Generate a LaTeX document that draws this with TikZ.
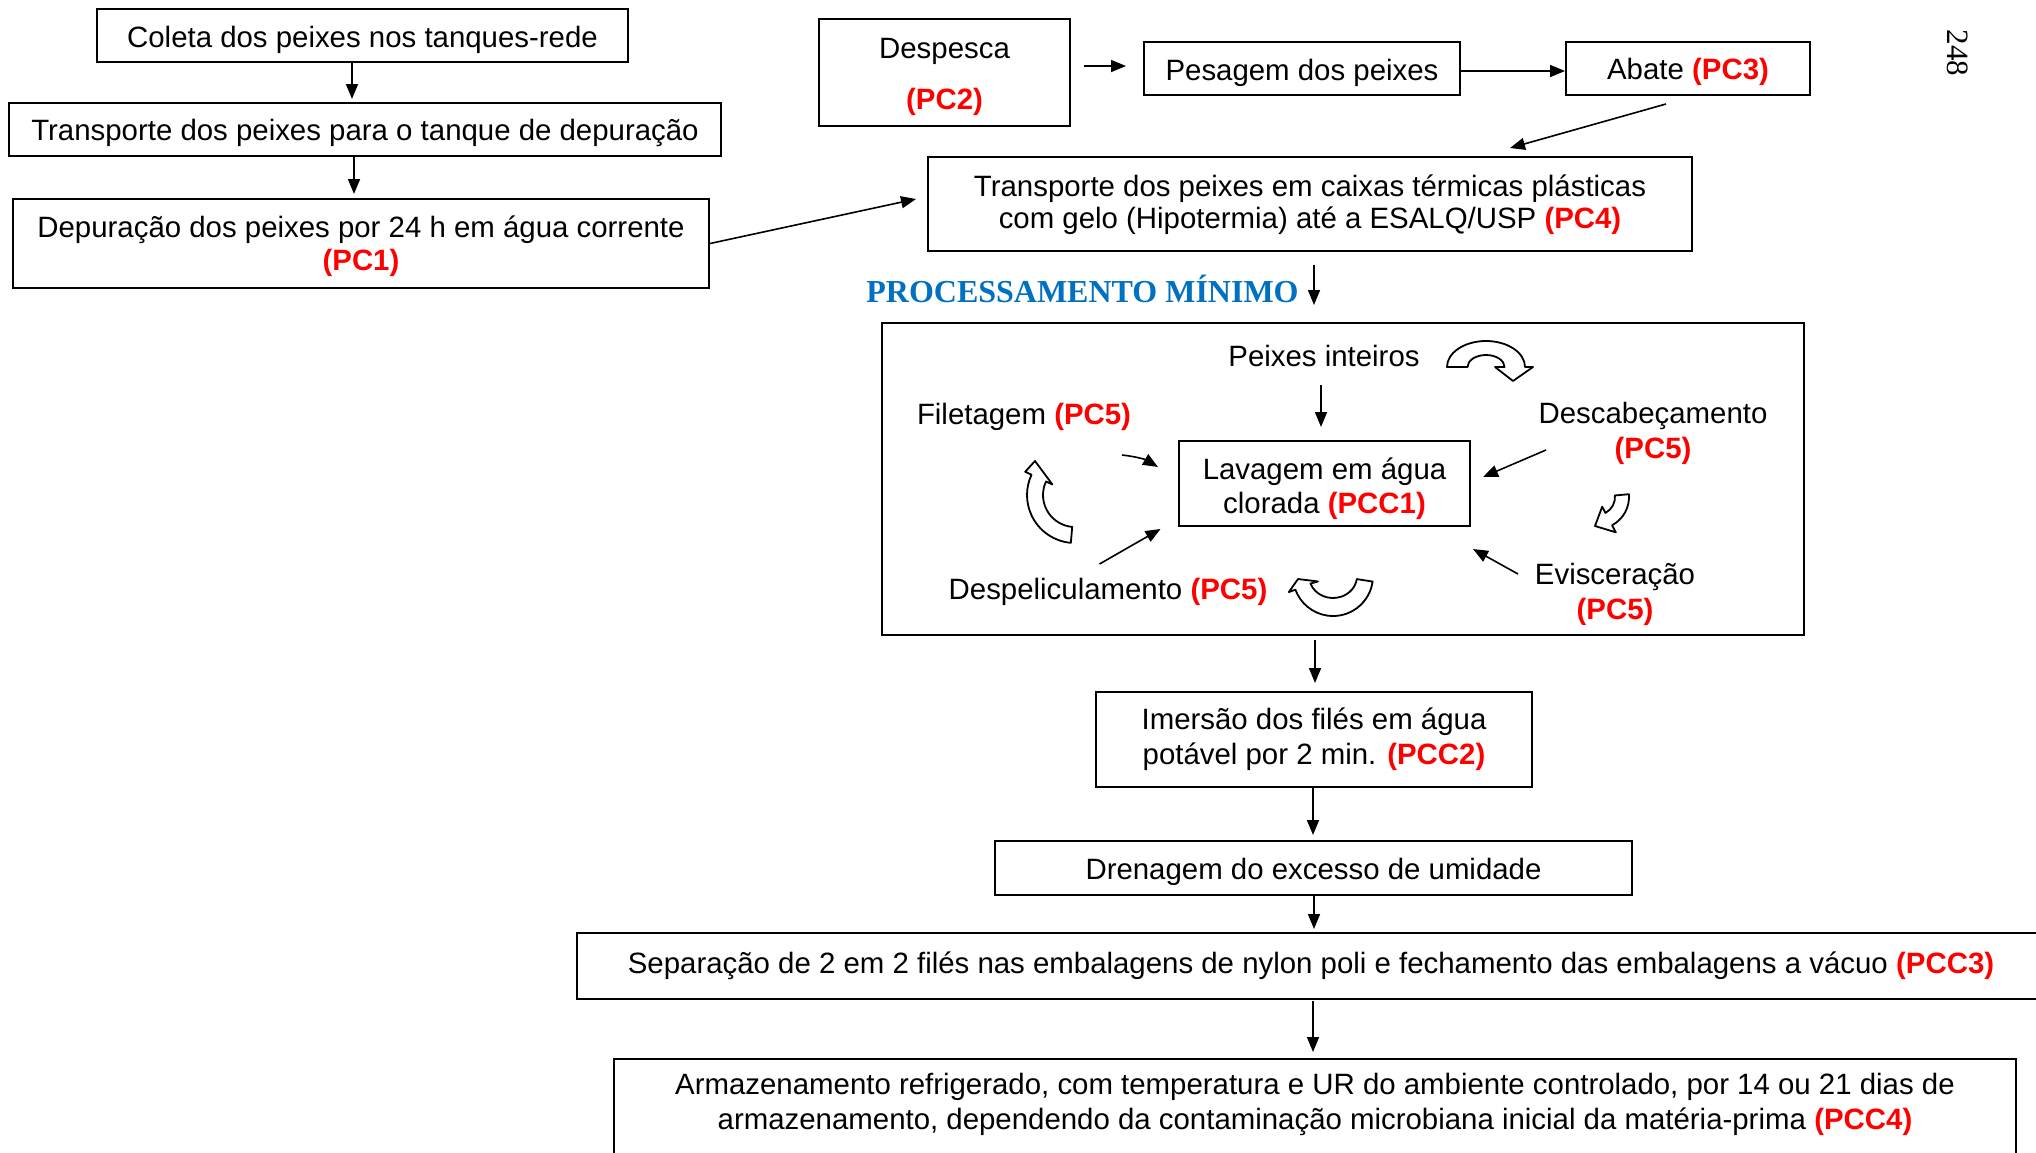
\documentclass[tikz,border=0pt]{standalone}
\usepackage{fontspec}
\setmainfont{Liberation Sans}
\newfontfamily\serifb{Liberation Serif}
\usetikzlibrary{arrows.meta,calc}
\definecolor{procblue}{RGB}{0,112,192}
\newcommand\redb[1]{\textcolor{red}{\bfseries #1}}
% zero-width strut that lowers the text of a centred node by #1 pt
\newcommand\dropby[1]{\rule{0pt}{\dimexpr21.5pt+#1pt*2\relax}}
\begin{document}
\begin{tikzpicture}[x=1pt,y=1pt,
  every node/.style={font=\fontsize{29.4}{34}\selectfont},
  box/.style={draw, line width=2pt, inner sep=0pt, align=center},
  lower/.style={execute at begin node={\dropby{#1}}},
  arr/.style={line width=1.6pt, -{Triangle[length=15pt,width=12pt]}},
  hollow/.style={draw, fill=white, line width=1.8pt, line join=round}]
\useasboundingbox (0,0) rectangle (2036,-1152);

% --- left column: harvesting and depuration
\node[box, lower=4, minimum width=531pt, minimum height=53pt] (coleta) at (362.5,-35.5) {Coleta dos peixes nos tanques-rede};
\node[box, lower=3, minimum width=712pt, minimum height=53pt] (transp) at (365,-129.5) {Transporte dos peixes para o tanque de depuração};
\node[box, minimum width=696pt, minimum height=89pt, font=\fontsize{29.4}{33}\selectfont] (depur) at (361,-243.5) {\dropby{3}Depuração dos peixes por 24 h em água corrente\\\redb{(PC1)}};

% --- top row: slaughter
\node[box, minimum width=251pt, minimum height=107pt] (desp) at (944.5,-72.5) {\dropby{4}Despesca\\[17pt]\redb{(PC2)}};
\node[box, lower=4, minimum width=316pt, minimum height=53pt] (pesa) at (1302,-68.5) {Pesagem dos peixes};
\node[box, lower=3, minimum width=244pt, minimum height=53pt] (abate) at (1688,-68.5) {Abate \redb{(PC3)}};
\node[box, minimum width=764pt, minimum height=94pt, font=\fontsize{29.4}{32}\selectfont] (tbig) at (1310,-204) {\dropby{1}Transporte dos peixes em caixas térmicas plásticas\\com gelo (Hipotermia) até a ESALQ/USP \redb{(PC4)}};

% --- minimal processing
\node[text=procblue, font=\fontsize{32}{38}\selectfont\serifb\bfseries] (plabel) at (1082.5,-288.5) {PROCESSAMENTO MÍNIMO};
\node[box, minimum width=922pt, minimum height=312pt] (proc) at (1343,-479) {};

\node (peixes) at (1324,-356) {Peixes inteiros};
\node[box, minimum width=291pt, minimum height=85pt] (lav) at (1324.5,-483.5) {\dropby{5}Lavagem em água\\clorada \redb{(PCC1)}};
\node (filet) at (1024,-416.5) {Filetagem \redb{(PC5)}};
\node[align=center, font=\fontsize{29.4}{35}\selectfont] (desc) at (1653,-433.5) {Descabeçamento\\\redb{(PC5)}};
\node (despel) at (1108,-591.5) {Despeliculamento \redb{(PC5)}};
\node[align=center, font=\fontsize{29.4}{35}\selectfont] (evisc) at (1615,-594) {Evisceração\\\redb{(PC5)}};

% --- final steps
\node[box, minimum width=436pt, minimum height=95pt, font=\fontsize{29.4}{35}\selectfont] (imers) at (1314,-739.5) {Imersão dos filés em água\\potável por 2 min. \redb{(PCC2)}};
\node[box, lower=4, minimum width=637pt, minimum height=54pt] (dren) at (1313.5,-868) {Drenagem do excesso de umidade};
\node[box, minimum width=1468pt, minimum height=66pt] (sep) at (1311,-966) {Separação de 2 em 2 filés nas embalagens de nylon poli e fechamento das embalagens a vácuo \redb{(PCC3)}};
\node[draw, line width=2pt, inner sep=0pt, anchor=north, font=\fontsize{29.4}{35}\selectfont] (arm) at (1315,-1058)
  {\parbox[c][140pt][t]{1402pt}{\centering\vspace*{14pt}Armazenamento refrigerado, com temperatura e UR do ambiente controlado, por 14 ou 21 dias de\\armazenamento, dependendo da contaminação microbiana inicial da matéria-prima \redb{(PCC4)}}};

% page number
\node[rotate=-90, font=\fontsize{31}{36}\selectfont\serifb] (pagenum) at (1957.5,-53) {248};

% --- connectors
\draw[arr] ($(coleta.south)+(-10.5,0)$) -- ($(transp.north)+(-13,3)$);
\draw[arr] ($(transp.south)+(-11,0)$) -- ($(depur.north)+(-7,4)$);
\draw[arr] (depur.east) -- ($(tbig.west)+(-11,5)$);
\draw[arr] ($(desp.east)+(13,6.5)$) -- ($(pesa.west)+(-17,2.5)$);
\draw[arr] ($(pesa.east)+(0,-2.5)$) -- ($(abate.west)+(0,-2.5)$);
\draw[arr] ($(abate.south)+(-22,-8)$) -- ($(tbig.north)+(200,8)$);
\draw[arr] ($(tbig.south)+(4,-13)$) -- ($(proc.north)+(-29,17)$);
\draw[arr] ($(proc.south)+(-28,-4)$) -- ($(imers.north)+(1,8)$);
\draw[arr] ($(imers.south)+(-1,0)$) -- ($(dren.north)+(-0.5,5)$);
\draw[arr] ($(dren.south)+(0.5,0)$) -- ($(sep.north)+(3,3)$);
\draw[arr] ($(sep.south)+(2,-1)$) -- ($(arm.north)+(-2,6)$);

\draw[arr] ($(peixes.center)+(-3,-29)$) -- ($(lav.north)+(-3.5,13)$);
\draw[arr] ($(filet.center)+(98,-38.5)$) to[bend left=12] ($(lav.west)+(-20,16.5)$);
\draw[arr] ($(desc.center)+(-107,-16.5)$) -- ($(lav.east)+(12,6.5)$);
\draw[arr] ($(despel.center)+(-8.5,27.5)$) -- ($(lav.south west)+(-17.5,-2)$);
\draw[arr] ($(evisc.center)+(-97,20)$) -- ($(lav.south east)+(2,-22)$);

% --- hollow cycle arrows
\begin{scope}[shift={(1486,-367)}]
\draw[hollow] (180:39 and 26) arc[start angle=180,end angle=0,x radius=39,y radius=26]
  -- (47,0) -- (27,-14) -- (9,0) -- (18.5,0)
  arc[start angle=0,end angle=180,x radius=18.5,y radius=12] -- cycle;
\end{scope}
\begin{scope}[shift={(1075,-495)}]
\draw[hollow] (-95:48) arc[start angle=-95,end angle=-205,radius=48]
  -- (155:55) -- (-40,34) -- (155:25) -- (155:32)
  arc[start angle=155,end angle=265,radius=32] -- cycle;
\end{scope}
\begin{scope}[shift={(1597,-497)}]
\draw[hollow] (5:32) arc[start angle=5,end angle=-62,radius=32]
  -- (-62:40) -- (-2,-29) -- (-62:11) -- (-62:18)
  arc[start angle=-62,end angle=5,radius=18] -- cycle;
\end{scope}
\begin{scope}[shift={(1333,-576)}]
\draw[hollow] (-8:40) arc[start angle=-8,end angle=-160,radius=40]
  -- (-160:47) -- (-35,-3) -- (-160:16) -- (-160:24 and 22)
  arc[start angle=-160,end angle=-8,x radius=24,y radius=22] -- cycle;
\end{scope}
\end{tikzpicture}
\end{document}
